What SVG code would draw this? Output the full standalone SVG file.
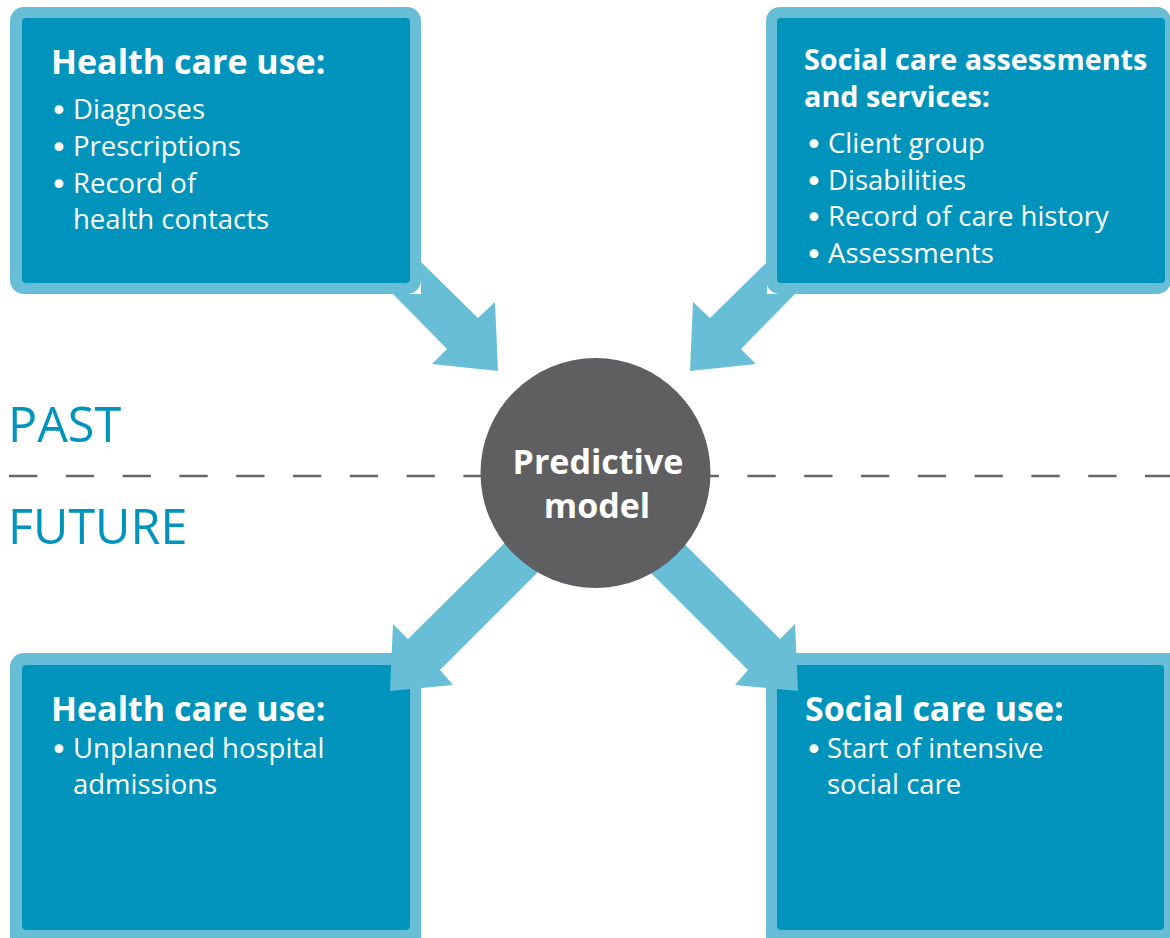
<svg xmlns="http://www.w3.org/2000/svg" width="1170" height="938" viewBox="0 0 1170 938">
  <style>
    .frame { fill: #68bed7; }
    .panel { fill: #0094bd; }
    .arrow { fill: #68bed7; }
    .head { font-family: "Open Sans", "Liberation Sans", sans-serif; font-weight: 700; fill: #ffffff; }
    .item { font-family: "Open Sans", "Liberation Sans", sans-serif; font-size: 27.5px; fill: #ffffff; }
    .dot { font-family: "DejaVu Sans", sans-serif; font-size: 30px; }
    .era { font-family: "Open Sans", "Liberation Sans", sans-serif; font-size: 48.5px; fill: #0094bd; }
    .hub { font-family: "Open Sans", "Liberation Sans", sans-serif; font-weight: 700; font-size: 34px; fill: #ffffff; text-anchor: middle; }
  </style>

  <rect width="1170" height="938" fill="#ffffff"/>

  <!-- time divider -->
  <g id="timeline">
    <line x1="9" y1="476" x2="1170" y2="476" stroke="#666666" stroke-width="2.7" stroke-dasharray="28.3 28.5"/>
    <text class="era" x="8" y="442">PAST</text>
    <text class="era" x="8" y="544">FUTURE</text>
  </g>

  <!-- inputs: past data -->
  <g id="health-past">
    <rect class="frame" x="10" y="7" width="411" height="287" rx="14"/>
    <rect class="panel" x="22" y="18" width="388" height="265" rx="4"/>
    <text class="head" x="51" y="74" font-size="34">Health care use:</text>
    <text class="item"><tspan class="dot" x="50" y="121">•</tspan><tspan x="73" y="119">Diagnoses</tspan></text>
    <text class="item"><tspan class="dot" x="50" y="158">•</tspan><tspan x="73" y="156">Prescriptions</tspan></text>
    <text class="item"><tspan class="dot" x="50" y="195">•</tspan><tspan x="73" y="193">Record of</tspan></text>
    <text class="item" x="73" y="229">health contacts</text>
  </g>

  <g id="social-past">
    <rect class="frame" x="766" y="7" width="405" height="287" rx="14"/>
    <rect class="panel" x="777" y="18" width="388" height="265" rx="4"/>
    <text class="head" font-size="28.8"><tspan x="804" y="70">Social care assessments</tspan><tspan x="804" y="107">and services:</tspan></text>
    <text class="item"><tspan class="dot" x="805" y="155">•</tspan><tspan x="828" y="153">Client group</tspan></text>
    <text class="item"><tspan class="dot" x="805" y="192">•</tspan><tspan x="828" y="190">Disabilities</tspan></text>
    <text class="item"><tspan class="dot" x="805" y="228">•</tspan><tspan x="828" y="226">Record of care history</tspan></text>
    <text class="item"><tspan class="dot" x="805" y="265">•</tspan><tspan x="828" y="263">Assessments</tspan></text>
  </g>

  <!-- outputs: future events -->
  <g id="health-future">
    <rect class="frame" x="10" y="653" width="411" height="300" rx="14"/>
    <rect class="panel" x="22" y="665" width="388" height="265" rx="4"/>
    <text class="head" x="51" y="721" font-size="34">Health care use:</text>
    <text class="item"><tspan class="dot" x="50" y="760">•</tspan><tspan x="73" y="758">Unplanned hospital</tspan></text>
    <text class="item" x="73" y="794">admissions</text>
  </g>

  <g id="social-future">
    <rect class="frame" x="766" y="653" width="420" height="300" rx="14"/>
    <rect class="panel" x="777" y="665" width="387" height="265" rx="4"/>
    <text class="head" x="805" y="721" font-size="34">Social care use:</text>
    <text class="item"><tspan class="dot" x="805" y="760">•</tspan><tspan x="827" y="758">Start of intensive</tspan></text>
    <text class="item" x="827" y="794">social care</text>
  </g>

  <!-- connectors -->
  <g id="connectors">
    <polygon class="arrow" points="421,262 478,318 495,302 498,371 432,364 447,349 393,294 421,294"/>
    <polygon class="arrow" points="767,262 710,318 693,302 690,371 756,364 741,349 795,294 767,294"/>
    <polygon class="arrow" points="545,503 408,639 393,624 390,691 453,685 440,670 590,520"/>
    <polygon class="arrow" points="643,503 780,639 795,624 798,691 735,685 748,670 598,520"/>
  </g>

  <!-- model -->
  <g id="model">
    <circle cx="595.5" cy="473" r="115" fill="#5f5f61"/>
    <text class="hub" x="598" y="474">Predictive</text>
    <text class="hub" x="597" y="518">model</text>
  </g>
</svg>
